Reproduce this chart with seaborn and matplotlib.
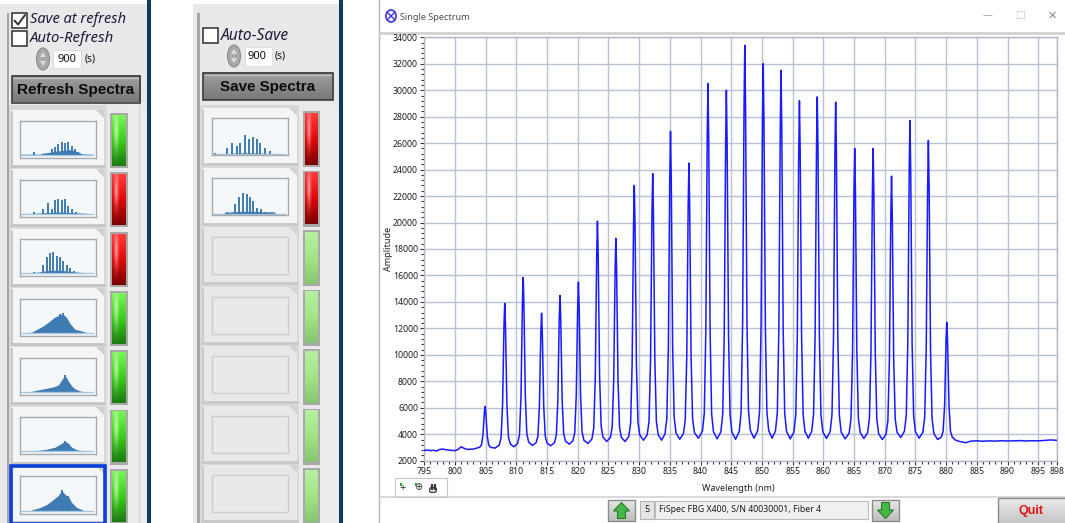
import numpy as np
import matplotlib
matplotlib.use("Agg")
import matplotlib.pyplot as plt
import seaborn as sns
import pandas as pd
from matplotlib.patches import Rectangle, Ellipse, Polygon, FancyBboxPatch
from matplotlib.ticker import MultipleLocator

# ---------------- spectrum data ----------------
# flat stretch before the first grating
pre_nm = [795.0, 795.5, 796.0, 796.5, 797.0, 797.5, 798.0, 798.5, 799.0, 799.5,
          800.0, 800.5, 801.0, 801.5, 802.0, 802.5, 803.0, 803.5]
pre_amp = [2780, 2800, 2760, 2790, 2730, 2850, 2880, 2830, 2800, 2780,
           2760, 2850, 3050, 2930, 2850, 2870, 2880, 2950]

# grating reflection peaks
peak_nm = [804.9, 808.1, 811.1, 814.1, 817.1, 820.1, 823.2, 826.2, 829.2, 832.2,
           835.1, 838.1, 841.2, 844.2, 847.2, 850.2, 853.1, 856.1, 859.0, 862.0,
           865.1, 868.1, 871.1, 874.1, 877.1, 880.1]
peak_amp = [6100, 13900, 15850, 13150, 14500, 15500, 20100, 18800, 22800, 23700,
            26900, 24500, 30500, 30000, 33400, 32000, 31500, 29200, 29500, 29100,
            25600, 25600, 23500, 27700, 26200, 12450]
# floor level between neighbouring peaks (one before the first, one after the last)
valley_amp = [2950, 2950, 3050, 3150, 3130, 3250, 3300, 3450, 3450, 3550, 3550,
              3620, 3700, 3650, 3620, 3700, 3700, 3650, 3700, 3680, 3650, 3680,
              3600, 3750, 3700, 3600, 3600]

# flat stretch after the last grating
post_nm = [881.5, 882.2, 883.2, 884.0, 885.0, 886.0, 887.0, 888.0, 889.0, 890.0,
           891.0, 892.0, 893.0, 894.0, 895.0, 896.0, 897.0, 898.0]
post_amp = [3560, 3450, 3360, 3480, 3500, 3470, 3500, 3480, 3510, 3490,
            3500, 3520, 3490, 3510, 3500, 3530, 3570, 3540]

# line shape of one reflection peak: offset from centre (nm), share of height above floor
profile_off = [-0.9, -0.6, -0.35, -0.12, 0.0, 0.12, 0.35, 0.6, 0.9]
profile_frac = [0.02, 0.07, 0.3, 0.85, 1.0, 0.85, 0.3, 0.07, 0.02]

x_ticks = [795, 800, 805, 810, 815, 820, 825, 830, 835, 840, 845, 850, 855,
           860, 865, 870, 875, 880, 885, 890, 895, 898]
y_ticks = list(range(2000, 34001, 2000))

# ---------------- thumbnail data (x in px across the box, height in px) ----------------
thumbs_a = [
    dict(sx=[14, 32, 35, 38, 42, 45, 48, 52, 55, 58], sh=[3, 6, 8, 11, 13, 12, 13, 9, 6, 3],
         fx=[0, 20, 22, 30, 40, 50, 58, 62, 73], fh=[0.5, 0.5, 1.5, 2.5, 4, 5, 3, 0.8, 0.5]),
    dict(sx=[14.3, 23.3, 27.7, 31.7, 35, 38.3, 41.7, 45, 48.3, 51.7, 56],
         sh=[2.3, 5, 10.7, 5, 14, 15, 14, 15, 8, 5, 2.3],
         fx=[0, 12, 20, 30, 40, 50, 60, 70, 73], fh=[0.3, 0.5, 1, 1.5, 2, 1.5, 1, 0.5, 0.3]),
    dict(sx=[14.3, 23.3, 26.7, 30, 33.3, 36.7, 40, 43.3, 46.7, 50, 54],
         sh=[1.7, 8.7, 16, 20, 21, 17.7, 16, 12.7, 8.7, 5.3, 2.7],
         fx=[0, 12, 20, 30, 40, 50, 60, 70, 73], fh=[0.3, 0.5, 1.5, 3, 3, 2, 1, 0.5, 0.3]),
    dict(sx=[20, 40, 43], sh=[4, 19, 20],
         fx=[8, 11.7, 23.3, 30, 35, 40, 43.3, 46.7, 50, 55, 61.7, 65, 68],
         fh=[0, 0.5, 6.7, 11.7, 15.7, 17.7, 18.3, 15, 9, 3.3, 1.7, 0.5, 0]),
    dict(sx=[45], sh=[17],
         fx=[10, 13.3, 23.3, 33.3, 38.3, 41.7, 45, 48.3, 51.7, 55, 60, 64],
         fh=[0, 1, 3, 5, 7, 12, 16.7, 11, 6, 3, 1, 0]),
    dict(sx=[45], sh=[10],
         fx=[12, 15, 26.7, 35, 40, 45, 48.3, 51.7, 56.7, 63.3, 66],
         fh=[0, 0.5, 2, 4, 7, 10, 8, 4, 1.5, 0.5, 0]),
    dict(sx=[41.7, 48.3], sh=[20, 15],
         fx=[10, 13.3, 20, 26.7, 33.3, 38.3, 41.7, 45, 48.3, 51.7, 56.7, 61.7, 64],
         fh=[0, 1, 3, 6, 11, 15, 20, 16, 14, 8, 3, 1, 0]),
]
thumbs_b = [
    dict(sx=[3, 14.7, 19.7, 24.7, 28, 33, 37.3, 41.3, 44.7, 48, 53, 58],
         sh=[1.7, 6.7, 11, 8.3, 11.7, 19, 15, 17, 15.7, 11.7, 6.7, 3.3],
         fx=[0, 10, 20, 30, 40, 50, 60, 66], fh=[0.3, 0.5, 1, 1.5, 1.5, 1, 0.5, 0.3]),
    dict(sx=[14.7, 23, 27.3, 31.3, 34.7, 38, 41.3, 44.7, 48.7, 53],
         sh=[2, 9.7, 16.3, 20.7, 19.7, 16.3, 13, 6.3, 4.7, 2.3],
         fx=[10, 14, 20, 30, 40, 50, 62, 64], fh=[0, 1.5, 2, 2.5, 2.5, 2, 2, 0]),
]
leds_a = ["g", "r", "r", "g", "g", "g", "g"]
leds_b = ["r", "r", "p", "p", "p", "p", "p"]

# ---------------- figure ----------------
sns.set_theme(style="white")
plt.rcParams["font.family"] = ["Noto Sans", "DejaVu Sans"]
BOLD = ["Liberation Sans", "DejaVu Sans"]

W, H = 1065, 523
fig = plt.figure(figsize=(W / 100, H / 100), dpi=100)
fig.patch.set_facecolor("white")
renderer = fig.canvas.get_renderer()


def px(x0, y0, x1, y1):
    return [x0 / W, 1 - y1 / H, (x1 - x0) / W, (y1 - y0) / H]


bg = fig.add_axes([0, 0, 1, 1], zorder=0)
bg.set_xlim(0, W)
bg.set_ylim(H, 0)
bg.axis("off")


def rect(x0, y0, x1, y1, fc, ec="none", lw=1, z=1):
    bg.add_patch(Rectangle((x0, y0), x1 - x0, y1 - y0, facecolor=fc, edgecolor=ec,
                           linewidth=lw, zorder=z))


def fit_text(x, y, s, width, ha="left", **kw):
    t = bg.text(x, y, s, ha=ha, va="center", fontsize=10, zorder=6, **kw)
    w = t.get_window_extent(renderer).width
    t.set_fontsize(10 * width / w)
    return t


def gradient(x0, y0, x1, y1, top, mid, bottom, hi=None, z=3):
    ny, nx = 40, 20
    t = np.linspace(0, 1, ny)[:, None, None]
    top, mid, bottom = (np.array(matplotlib.colors.to_rgb(c)) for c in (top, mid, bottom))
    col = np.where(t < 0.5, top + (mid - top) * (t / 0.5), mid + (bottom - mid) * ((t - 0.5) / 0.5))
    col = np.repeat(col, nx, axis=1)
    if hi is not None:
        hx = np.exp(-((np.linspace(0, 1, nx) - 0.3) / 0.15) ** 2)[None, :, None]
        hy = np.exp(-((np.linspace(0, 1, ny) - 0.3) / 0.35) ** 2)[:, None, None]
        col = col + (np.array(matplotlib.colors.to_rgb(hi)) - col) * hx * hy * 0.8
    bg.imshow(np.clip(col, 0, 1), extent=(x0, x1, y1, y0), aspect="auto",
              interpolation="bilinear", zorder=z)


LED_STYLE = {
    "g": ("#7af45a", "#3ccc1c", "#1b7a10", "#c8ffb0"),
    "r": ("#ff3a3a", "#e00808", "#7a0000", "#ffb0b0"),
    "p": ("#b6f0a0", "#a2e488", "#86c670", None),
}


def led(x0, y0, x1, y1, kind):
    rect(x0 - 2, y0 - 2, x1 + 2, y1 + 2, "#a9a9a9", z=2)
    top, mid, bot, hi = LED_STYLE[kind]
    gradient(x0, y0, x1, y1, top, mid, bot, hi)


def button(x0, y0, x1, y1, label, width):
    gradient(x0, y0, x1, y1, "#a2a2a2", "#8c8c8c", "#787878", z=3)
    rect(x0, y0, x1, y1, "none", "#3a3a3a", 1.2, z=4)
    bg.plot([x0 + 2, x1 - 2], [y0 + 2, y0 + 2], color="#c0c0c0", lw=1, zorder=4)
    fit_text((x0 + x1) / 2, (y0 + y1) / 2 + 0.5, label, width, ha="center",
             family=BOLD, fontweight="bold", color="#0c0c0c")


def checkbox(x0, y0, checked):
    rect(x0, y0, x0 + 15, y0 + 15, "white", "#2c2c2c", 1.1, z=4)
    if checked:
        bg.plot([x0 + 2.5, x0 + 6, x0 + 13], [y0 + 8, y0 + 12, y0 + 2.5],
                color="#333333", lw=1.4, zorder=5)


def spinner(cx, cy, bx0, bx1, by0, by1):
    bg.add_patch(Ellipse((cx, cy), 13, 22, facecolor="#a9a9a9", edgecolor="#8a8a8a",
                         lw=0.8, zorder=4))
    bg.add_patch(Polygon([[cx - 3, cy - 2], [cx, cy - 7], [cx + 3, cy - 2]],
                         facecolor="#dcdcdc", edgecolor="none", zorder=5))
    bg.add_patch(Polygon([[cx - 3, cy + 2], [cx, cy + 7], [cx + 3, cy + 2]],
                         facecolor="#dcdcdc", edgecolor="none", zorder=5))
    rect(bx0, by0, bx1, by1, "white", "#dedede", 0.8, z=4)


def thumbnail(x0, y0, data, base):
    ta = fig.add_axes(px(x0, y0, x0 + 76, y0 + 37), zorder=3)
    ta.set_xlim(0, 76)
    ta.set_ylim(0, 37)
    ta.set_facecolor("#f5f8fa")
    for s in ta.spines.values():
        s.set_color("#a7aaae")
        s.set_linewidth(1)
    ta.set_xticks([])
    ta.set_yticks([])
    fx = np.array(data["fx"])
    fh = np.array(data["fh"])
    ta.plot([1, 73], [base, base], color="#a9c6df", lw=1)
    ta.fill_between(fx, base, base + fh, color="#3f7cb4", lw=0)
    ta.vlines(data["sx"], base, base + np.array(data["sh"]), color="#3f7cb4", lw=1.4)


# ---------- left panel: refresh ----------
rect(0, 4, 147, H, "#e9e9e9")
rect(147, 0, 150.5, H, "#0f3b58")
rect(7, 13, 9, H, "#a4a4a4", z=2)
rect(9, 105, 107, H, "#d9d9d9", z=1)
rect(128, 105, 146, H, "#ececec", z=1)
bg.plot([139, 139], [105, H], color="#d6d6d6", lw=1, zorder=2)

checkbox(12, 12.5, True)
fit_text(30, 19.5, "Save at refresh", 96, style="italic", color="#1d1d3a")
checkbox(12, 30.5, False)
fit_text(30, 38.5, "Auto-Refresh", 84, style="italic", color="#1d1d3a")
spinner(43, 59, 53, 81, 50, 68)
fit_text(57, 59.5, "900", 19, color="#111111")
fit_text(85, 59, "(s)", 11, color="#111111")
button(11.5, 76, 140, 102.5, "Refresh Spectra", 117)

for k in range(7):
    top = 110 + 59.3 * k
    rect(11, top, 104, top + 56, "#f3f5f7", z=2)
    bg.plot([11, 104], [top + 56, top + 56], color="#c4c4c4", lw=2, zorder=2)
    bg.plot([11.5, 11.5], [top + 2, top + 56], color="#c8c8c8", lw=1.5, zorder=2)
    bg.add_patch(Polygon([[96, top], [104, top], [104, top + 8]], facecolor="#cfcfcf",
                         edgecolor="none", zorder=2))
    thumbnail(20, 120.7 + 59.3 * k, thumbs_a[k], 3)
    led(112, 115 + 59.3 * k, 126, 166 + 59.3 * k, leds_a[k])
rect(10.5, 466, 105, 524, "none", "#0a3fd8", 2.6, z=5)

# ---------- second panel: save ----------
rect(193, 4, 339, H, "#e9e9e9")
rect(339, 0, 342.5, H, "#0f3b58")
rect(197, 13, 199.5, H, "#a4a4a4", z=2)
rect(200, 105, 299, H, "#d9d9d9", z=1)
rect(320, 105, 338, H, "#ececec", z=1)

checkbox(203, 28, False)
fit_text(221, 35.5, "Auto-Save", 68, style="italic", color="#1d1d3a")
spinner(234, 56, 245, 272, 47, 66)
fit_text(248, 56.5, "900", 19, color="#111111")
fit_text(275, 56, "(s)", 11, color="#111111")
button(203, 72.5, 333, 100, "Save Spectra", 95)

for k in range(7):
    top = 108 + 59.5 * k
    active = k < len(thumbs_b)
    rect(202, top, 297, top + 56, "#f3f5f7" if active else "#e7e8e9", z=2)
    bg.plot([202, 297], [top + 56, top + 56], color="#c9c9c9", lw=2, zorder=2)
    bg.plot([202.5, 202.5], [top + 2, top + 56], color="#cbcbcb", lw=1.5, zorder=2)
    bg.add_patch(Polygon([[289, top], [297, top], [297, top + 8]], facecolor="#d3d3d3",
                         edgecolor="none", zorder=2))
    if active:
        thumbnail(212, 118.3 + 59.5 * k, thumbs_b[k], 1)
    else:
        rect(212, 118.3 + 59.5 * k, 288, 155.3 + 59.5 * k, "#e8e9ea", "#cdcdcd", 1, z=3)
    led(305, 113 + 59.5 * k, 317.5, 165 + 59.5 * k, leds_b[k])

# ---------- spectrum window ----------
bg.plot([378.5, 378.5], [0, H], color="#b4b4b4", lw=1, zorder=2)
bg.add_patch(Ellipse((391, 16), 10, 12, facecolor="none", edgecolor="#3636e6", lw=1.2, zorder=4))
bg.plot([387, 395], [12, 20], color="#3636e6", lw=1, zorder=4)
bg.plot([387, 395], [20, 12], color="#3636e6", lw=1, zorder=4)
bg.text(400, 17, "Single Spectrum", fontsize=6.5, color="#4a4a4a", va="center", zorder=4)
bg.text(987, 16, "\u2014", fontsize=7, color="#a0a0a0", ha="center", va="center", zorder=4)
bg.text(1020, 16, "\u2610", fontsize=8, color="#c8c8c8", ha="center", va="center", zorder=4)
bg.text(1052, 16, "\u2715", fontsize=8, color="#8a8a8a", ha="center", va="center", zorder=4)
bg.plot([379, W], [32.5, 32.5], color="#d2d2d2", lw=2, zorder=2)
bg.plot([379, W], [496.5, 496.5], color="#d2d2d2", lw=1.2, zorder=2)

# plot toolbar: cursor, zoom and pan tools
rect(395, 478, 447, 496.5, "none", "#c8c8c8", 0.8, z=3)
bg.text(403, 488.5, "+", fontsize=8, color="#333333", ha="center", va="center", zorder=4)
bg.text(418, 488, "\u2295", fontsize=7, color="#333333", ha="center", va="center", zorder=4)
for dx in (-2.4, -0.8, 0.8, 2.4):
    bg.plot([433 + dx, 433 + dx], [484, 489], color="#333333", lw=0.9, zorder=4)
bg.add_patch(FancyBboxPatch((430, 488), 6, 4, boxstyle="round,pad=0.3,rounding_size=1.5",
                            facecolor="none", edgecolor="#333333", lw=0.9, zorder=4))
for x in (399.5, 414.5):
    rect(x, 483, x + 2.5, 485.5, "#2fa82f", z=5)

# bottom controls
def arrow_button(x0, x1, up):
    gradient(x0, 500, x1, 521, "#e6e6e6", "#d2d2d2", "#bdbdbd", z=3)
    rect(x0, 500, x1, 521, "none", "#8c8c8c", 1, z=4)
    cx = (x0 + x1) / 2
    if up:
        pts = [[cx - 8, 511], [cx, 502.5], [cx + 8, 511], [cx + 4, 511], [cx + 4, 518.5],
               [cx - 4, 518.5], [cx - 4, 511]]
    else:
        pts = [[cx - 8, 510], [cx, 518.5], [cx + 8, 510], [cx + 4, 510], [cx + 4, 502.5],
               [cx - 4, 502.5], [cx - 4, 510]]
    bg.add_patch(Polygon(pts, facecolor="#45b945", edgecolor="#2a7a2a", lw=0.8, zorder=5))


arrow_button(608, 635, True)
arrow_button(872, 899, False)
rect(640, 501, 654, 519, "#e4e4e4", "#b4b4b4", 0.8, z=3)
bg.text(647, 510, "5", fontsize=6.5, color="#222222", ha="center", va="center", zorder=4)
rect(655, 500.5, 868, 519, "#f0f0f0", "#bcbcbc", 0.8, z=3)
bg.text(659, 510, "FiSpec FBG X400, S/N 40030001, Fiber 4", fontsize=6.3, color="#1e1e1e",
        va="center", zorder=4)
gradient(998, 498, 1066, 524, "#ececec", "#d8d8d8", "#c4c4c4", z=3)
rect(998, 498, 1066, 524, "none", "#8a8a8a", 1, z=4)
bg.text(1031, 511, "Quit", fontsize=9, family=BOLD, fontweight="bold", color="#e01414",
        ha="center", va="center", zorder=5)

# ---------- spectrum plot ----------
wl, amp = list(pre_nm), list(pre_amp)
for i, (c, a) in enumerate(zip(peak_nm, peak_amp)):
    left, right = valley_amp[i], valley_amp[i + 1]
    for off, frac in zip(profile_off, profile_frac):
        base = left if off < 0 else right
        wl.append(c + off)
        amp.append(base + frac * (a - base))
    if i < len(peak_nm) - 1:
        wl.append((c + peak_nm[i + 1]) / 2)
        amp.append(right)
wl += post_nm
amp += post_amp
spec = pd.DataFrame({"Wavelength": wl, "Amplitude": amp})

ax = fig.add_axes(px(424.3, 37.3, 1056.7, 460.7), zorder=2)
ax.set_facecolor("white")
sns.lineplot(data=spec, x="Wavelength", y="Amplitude", color="#1a1aff", linewidth=1.1,
             ax=ax, sort=False, zorder=3)
ax.set_xlim(795, 898)
ax.set_ylim(2000, 34000)
ax.set_xticks(x_ticks)
ax.set_xticklabels([str(t) for t in x_ticks])
ax.set_yticks(y_ticks)
ax.set_yticklabels([str(t) for t in y_ticks])
ax.xaxis.set_minor_locator(MultipleLocator(1))
ax.yaxis.set_minor_locator(MultipleLocator(400))
ax.grid(True, which="major", color="#b9c1d4", linewidth=1)
ax.tick_params(which="major", direction="out", length=3, width=0.8, color="#333333",
               labelsize=6.3, labelcolor="#1e1e1e", pad=1.5, left=True, bottom=True)
ax.tick_params(which="minor", direction="out", length=2, width=0.8, color="#333333",
               left=True, bottom=True)
for s in ax.spines.values():
    s.set_color("#b0b6c4")
    s.set_linewidth(1)
ax.set_xlabel("Wavelength (nm)", fontsize=6.5, color="#222222")
ax.set_ylabel("Amplitude", fontsize=6.5, color="#222222")
ax.xaxis.set_label_coords(0.496, -0.056)
ax.yaxis.set_label_coords(-0.05, 0.5)

bg.set_xlim(0, W)
bg.set_ylim(H, 0)
fig.savefig("out.png", dpi=100, facecolor="white")
